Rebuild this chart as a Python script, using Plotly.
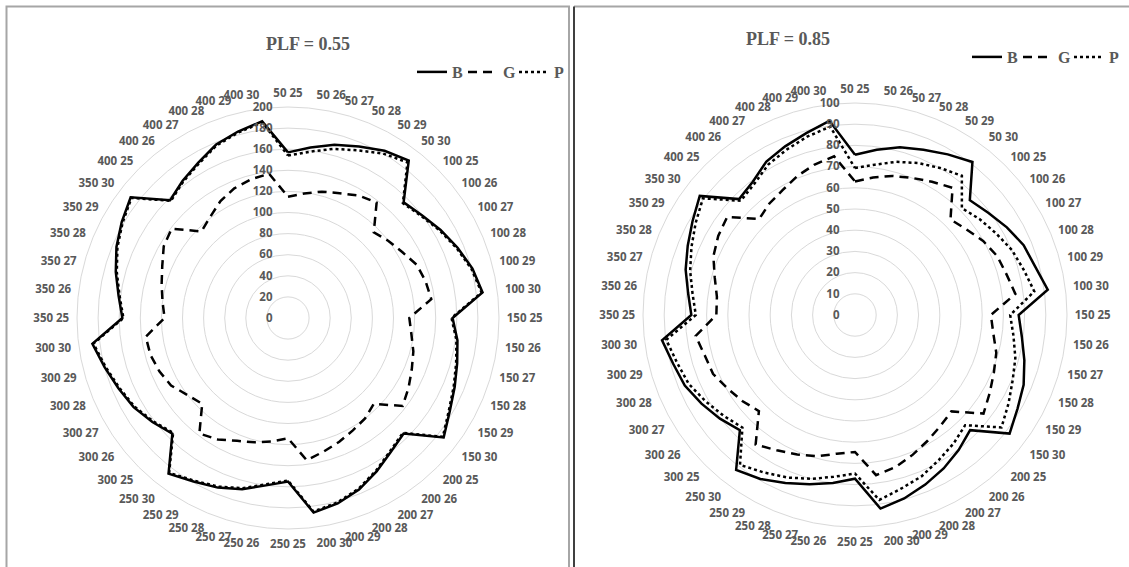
import plotly.graph_objects as go

# Category labels: load (first number) and temperature (second number)
loads = [50, 100, 150, 200, 250, 300, 350, 400]
temps = [25, 26, 27, 28, 29, 30]
categories = [f"{l} {t}" for l in loads for t in temps]

# PLF = 0.55
b_055 = [157, 163, 170, 176, 183, 188,
         155, 160, 167, 174, 181, 186,
         156, 162, 166, 171, 177, 186,
         155, 160, 168, 176, 182, 186,
         155, 160, 168, 174, 179, 186,
         155, 162, 169, 174, 180, 187,
         157, 162, 169, 176, 182, 188,
         158, 164, 170, 178, 183, 188]
g_055 = [115, 119, 124, 128, 134, 138,
         115, 120, 125, 132, 135, 137,
         115, 118, 123, 127, 132, 137,
         115, 120, 123, 127, 131, 136,
         114, 118, 122, 126, 133, 138,
         115, 120, 128, 132, 135, 136,
         117, 120, 124, 129, 136, 139,
         116, 121, 128, 133, 136, 138]
p_055 = [154, 159, 166, 172, 180, 186,
         154, 159, 166, 173, 180, 185,
         155, 161, 165, 170, 176, 185,
         154, 159, 167, 175, 181, 185,
         154, 159, 167, 173, 178, 185,
         154, 161, 168, 173, 179, 186,
         156, 161, 168, 175, 181, 187,
         157, 163, 169, 177, 182, 187]

# PLF = 0.85
b_085 = [75.6, 78.6, 81.9, 84.4, 87.5, 91.0,
         76.6, 79.2, 82.7, 86.1, 88.0, 91.7,
         77.2, 79.4, 82.7, 86.1, 88.5, 91.9,
         76.8, 80.3, 83.6, 86.6, 89.6, 92.1,
         77.2, 79.9, 82.7, 85.8, 89.3, 92.1,
         76.8, 80.3, 83.6, 86.9, 88.8, 91.8,
         77.2, 79.4, 82.7, 85.4, 88.5, 92.3,
         77.3, 79.2, 83.6, 86.1, 88.8, 92.4]
g_085 = [63.0, 65.4, 67.9, 70.0, 72.6, 75.6,
         63.7, 66.3, 69.8, 72.6, 74.0, 76.3,
         64.1, 65.8, 69.0, 70.9, 73.4, 76.4,
         64.3, 66.1, 68.5, 71.3, 74.2, 76.2,
         64.6, 66.0, 69.0, 71.2, 73.7, 77.0,
         64.1, 66.8, 69.4, 72.5, 73.4, 75.8,
         65.4, 65.7, 68.5, 72.3, 74.5, 76.0,
         64.0, 66.3, 68.1, 71.0, 73.5, 75.5]
p_085 = [69.3, 71.5, 74.8, 77.6, 80.1, 82.8,
         71.3, 74.2, 76.9, 80.1, 82.4, 85.3,
         73.2, 75.4, 78.3, 80.5, 83.6, 87.1,
         73.5, 76.4, 79.0, 82.3, 84.7, 88.0,
         74.8, 77.0, 80.0, 83.0, 85.8, 89.1,
         75.1, 78.1, 81.4, 84.9, 86.9, 89.8,
         75.1, 77.3, 80.5, 83.5, 86.8, 90.4,
         76.2, 78.0, 81.9, 84.4, 87.1, 89.6]

W, H = 1129, 567
GRAY_TXT = "#595959"
GRID = "#d9d9d9"
LABEL_FONT = dict(family="Open Sans", size=11.5, color=GRAY_TXT, weight="bold")
SERIF = dict(family="Liberation Serif", size=16, color=GRAY_TXT, weight="bold")

series_styles = [("B", "solid", 2.5), ("G", "9px,6px", 2.5), ("P", "dot", 2.5)]


def closed(vals):
    return list(vals) + [vals[0]]


fig = go.Figure()
panels = [
    ("polar", "legend", (b_055, g_055, p_055)),
    ("polar2", "legend2", (b_085, g_085, p_085)),
]
for polar_id, legend_id, data in panels:
    for (name, dash, width), vals in zip(series_styles, data):
        fig.add_trace(go.Scatterpolar(
            r=closed(vals), theta=closed(categories), mode="lines", name=name,
            line=dict(color="black", width=width, dash=dash),
            subplot=polar_id, legend=legend_id, hoverinfo="skip"))


def px_domain(cx, cy, rad):
    return dict(x=[(cx - rad) / W, (cx + rad) / W],
                y=[1 - (cy + rad) / H, 1 - (cy - rad) / H])


def polar_layout(rmax, dtick, cx, cy, rad):
    return dict(
        domain=px_domain(cx, cy, rad),
        bgcolor="white",
        radialaxis=dict(range=[0, rmax], dtick=dtick, angle=90, tickangle=90,
                        showline=False, gridcolor=GRID, gridwidth=1,
                        ticks="outside", ticklen=11, tickcolor="rgba(0,0,0,0)",
                        tickfont=LABEL_FONT, side="counterclockwise"),
        angularaxis=dict(type="category", categoryarray=categories,
                         rotation=90, direction="clockwise",
                         showgrid=False, linecolor=GRID, linewidth=1,
                         ticks="outside", ticklen=5, tickcolor="rgba(0,0,0,0)",
                         tickfont=LABEL_FONT),
    )


legend_common = dict(orientation="h", yanchor="middle", font=SERIF,
                     bgcolor="rgba(0,0,0,0)", itemwidth=30,
                     entrywidth=6, entrywidthmode="pixels")

fig.update_layout(
    width=W, height=H,
    margin=dict(l=0, r=0, t=0, b=0),
    paper_bgcolor="white",
    polar=polar_layout(200, 20, 288, 318, 211),
    polar2=polar_layout(100, 10, 855, 315, 212),
    legend=dict(x=565 / W, xanchor="right", y=1 - 72 / H, **legend_common),
    legend2=dict(x=1120 / W, xanchor="right", y=1 - 57 / H, **legend_common),
    annotations=[
        dict(text="PLF = 0.55", x=264 / W, y=1 - 32 / H, xref="paper", yref="paper",
             showarrow=False, font=dict(family="Liberation Serif", size=18,
                                        color=GRAY_TXT, weight="bold")),
        dict(text="PLF = 0.85", x=832 / W, y=1 - 27 / H, xref="paper", yref="paper",
             showarrow=False, font=dict(family="Liberation Serif", size=18,
                                        color=GRAY_TXT, weight="bold")),
    ],
    shapes=[
        # frame of the left panel
        dict(type="rect", xref="paper", yref="paper",
             x0=6.5 / W, x1=569 / W, y0=-0.05, y1=1 - 6.5 / H,
             line=dict(color="#a6a6a6", width=2)),
        # frame of the right panel
        dict(type="line", xref="paper", yref="paper",
             x0=574 / W, x1=1.05, y0=1 - 6.5 / H, y1=1 - 6.5 / H,
             line=dict(color="#a6a6a6", width=2)),
        dict(type="line", xref="paper", yref="paper",
             x0=574 / W, x1=574 / W, y0=-0.05, y1=1 - 6.5 / H,
             line=dict(color="#404040", width=2)),
    ],
)

fig.write_html("out.html")
